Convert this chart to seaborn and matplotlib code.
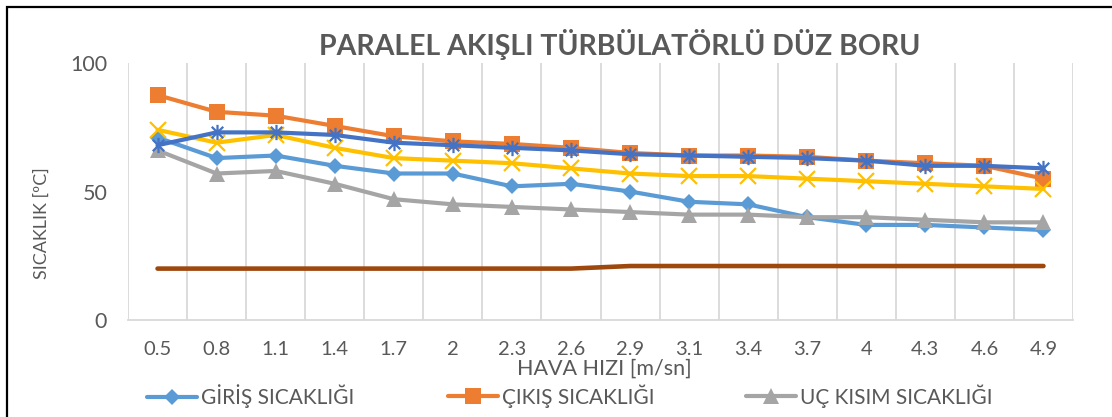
import numpy as np
import pandas as pd
import matplotlib
matplotlib.use("Agg")
import matplotlib.pyplot as plt
from matplotlib.path import Path
from matplotlib.patches import Rectangle
from matplotlib.lines import Line2D
import seaborn as sns

# Air velocity categories [m/s]
hava_hizi = ["0.5", "0.8", "1.1", "1.4", "1.7", "2", "2.3", "2.6",
             "2.9", "3.1", "3.4", "3.7", "4", "4.3", "4.6", "4.9"]

# Temperatures [ºC]
giris = [71, 63, 64, 60, 57, 57, 52, 53, 50, 46, 45, 40, 37, 37, 36, 35]
cikis = [87.5, 81, 79.5, 75.5, 71.5, 69.5, 68.5, 67, 65, 64, 64, 63.5, 62, 61, 60, 55]
uc_kisim = [66, 57, 58, 53, 47, 45, 44, 43, 42, 41, 41, 40, 40, 39, 38, 38]
seri_4 = [74, 69, 72, 67, 63, 62, 61, 59, 57, 56, 56, 55, 54, 53, 52, 51]
seri_5 = [68, 73, 73, 72, 69, 68, 67, 66, 64.5, 64, 63.5, 63, 62, 60, 60, 59]
seri_6 = [20, 20, 20, 20, 20, 20, 20, 20, 21, 21, 21, 21, 21, 21, 21, 21]

legend_names = ["GİRİŞ SICAKLIĞI", "ÇIKIŞ SICAKLIĞI", "UÇ KISIM SICAKLIĞI"]

sns.set_theme(style="white")
plt.rcParams["font.family"] = ["Lato", "DejaVu Sans"]

TEXT = "#595959"
GRID = "#D9D9D9"

# asterisk marker: vertical bar plus a cross
asterisk = Path(
    [(0, -1), (0, 1), (-0.75, -0.75), (0.75, 0.75), (-0.75, 0.75), (0.75, -0.75)],
    [Path.MOVETO, Path.LINETO, Path.MOVETO, Path.LINETO, Path.MOVETO, Path.LINETO],
)

series = [
    (giris, "#5B9BD5", "D", 8.0, {}),
    (cikis, "#ED7D31", "s", 11.0, {}),
    (uc_kisim, "#A5A5A5", "^", 11.0, {}),
    (seri_4, "#FFC000", "x", 11.0, {"markeredgewidth": 1.6}),
    (seri_5, "#4472C4", asterisk, 11.0, {"markeredgewidth": 1.6}),
    (seri_6, "#9E480E", None, 0, {}),
]

fig = plt.figure(figsize=(11.12, 4.17), dpi=100)
ax = fig.add_axes([128 / 1112, 1 - 320 / 417, 945 / 1112, 257 / 417])

pos = np.arange(len(hava_hizi))
for vals, color, marker, ms, extra in series:
    df = pd.DataFrame({"pos": pos, "val": vals})
    kw = dict(marker=marker, markersize=ms, markerfacecolor=color,
              markeredgecolor=color) if marker is not None else {}
    if marker in ("D", "s", "^"):
        kw["markeredgewidth"] = 0
    kw.update(extra)
    sns.lineplot(data=df, x="pos", y="val", ax=ax, color=color,
                 linewidth=3.3 if marker is None else 3,
                 sort=False, estimator=None, **kw)

ax.set_xlim(-0.5, len(hava_hizi) - 0.5)
ax.set_ylim(0, 100)
ax.set_yticks([0, 50, 100])
ax.set_xticks(pos)
ax.set_xticklabels(hava_hizi)
ax.tick_params(axis="both", length=0, labelcolor=TEXT)
ax.tick_params(axis="y", pad=15, labelsize=15.5)
ax.tick_params(axis="x", pad=15, labelsize=14.5)

# vertical separators between categories
for b in np.arange(-0.5, len(hava_hizi) + 0.5, 1):
    ax.axvline(b, color=GRID, linewidth=1.3, zorder=0)

for side in ["top", "right", "left"]:
    ax.spines[side].set_visible(False)
ax.spines["bottom"].set_color(GRID)
ax.spines["bottom"].set_linewidth(1.3)

ax.set_ylabel("")
ax.set_xlabel("HAVA HIZI [m/sn]", fontsize=15.5, color=TEXT)
ax.xaxis.set_label_coords((604 - 128) / 945, (320 - 369) / 257)
ax.xaxis.label.set_va("center")

fig.text(42 / 1112, 1 - 223 / 417, "SICAKLIK [ºC]", rotation=90,
         ha="center", va="center", fontsize=13, color=TEXT)

fig.text(620 / 1112, 1 - 45 / 417, "PARALEL AKIŞLI TÜRBÜLATÖRLÜ DÜZ BORU",
         ha="center", va="center", fontsize=20.5, fontweight="bold", color=TEXT)

# legend entries
handles = [
    Line2D([], [], color="#5B9BD5", lw=3, marker="D", ms=8, mew=0),
    Line2D([], [], color="#ED7D31", lw=3, marker="s", ms=11, mew=0),
    Line2D([], [], color="#A5A5A5", lw=3, marker="^", ms=11, mew=0),
]
leg_x = [147, 448, 746]
for h, name, x in zip(handles, legend_names, leg_x):
    fig.legend([h], [name], loc="center left",
               bbox_to_anchor=(x / 1112, 1 - 396 / 417), frameon=False,
               fontsize=15, labelcolor=TEXT, handlelength=2.4,
               handletextpad=0.2, borderpad=0, borderaxespad=0)

# chart frame
fig.patches.append(Rectangle((7 / 1112, -0.2), 1.2, 1.2 - 7 / 417,
                             transform=fig.transFigure, fill=False,
                             edgecolor="black", linewidth=1.6))

fig.savefig("out.png", dpi=100)
